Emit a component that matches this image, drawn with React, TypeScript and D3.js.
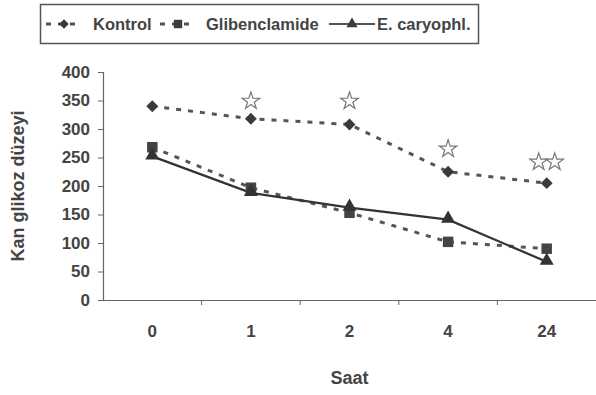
import React, { useEffect, useRef } from "react";
import * as d3 from "d3";

const hours = ["0", "1", "2", "4", "24"];
const kontrol = [340, 318, 308, 225, 205];
const glibenclamide = [268, 197, 153, 102, 90];
const caryophyllus = [252, 188, 162, 141, 67];
// significance stars above the Kontrol series: [hour, y-value, count]
const stars = [
  { hour: "1", value: 349, count: 1 },
  { hour: "2", value: 349, count: 1 },
  { hour: "4", value: 265, count: 1 },
  { hour: "24", value: 242, count: 2 },
];
const yTicks = [0, 50, 100, 150, 200, 250, 300, 350, 400];

const INK = "#3a3a3a";
const FONT = "'Liberation Sans', Arial, sans-serif";

const App = () => {
  const ref = useRef<SVGSVGElement>(null);

  useEffect(() => {
    const svg = d3.select(ref.current);
    svg.selectAll("*").remove();

    const x = d3.scaleBand().domain(hours).range([103, 596]);
    const y = d3.scaleLinear().domain([0, 400]).range([300, 72]);
    const cx = (h: string) => (x(h) as number) + x.bandwidth() / 2;

    // Y axis
    const yAxis = svg
      .append("g")
      .attr("transform", "translate(103,0)")
      .call(d3.axisLeft(y).tickValues(yTicks).tickSize(5).tickPadding(8));
    yAxis.select(".domain").attr("stroke", "#666").attr("stroke-width", 1.2);
    yAxis.selectAll(".tick line").attr("stroke", "#666");
    yAxis
      .selectAll("text")
      .attr("font-family", FONT)
      .attr("font-weight", "bold")
      .attr("font-size", 17)
      .attr("fill", "#444");

    // X axis
    const xAxis = svg
      .append("g")
      .attr("transform", "translate(0,300)")
      .call(d3.axisBottom(x).tickSize(0).tickPadding(25));
    xAxis.select(".domain").attr("stroke", "#666").attr("stroke-width", 1.2);
    xAxis
      .selectAll("text")
      .attr("font-family", FONT)
      .attr("font-weight", "bold")
      .attr("font-size", 17)
      .attr("fill", "#444");
    xAxis
      .selectAll(".bound")
      .data(hours.slice(1))
      .enter()
      .append("line")
      .attr("x1", (d) => x(d) as number)
      .attr("x2", (d) => x(d) as number)
      .attr("y1", 0)
      .attr("y2", 5)
      .attr("stroke", "#666");

    // Axis titles
    svg
      .append("text")
      .attr("transform", `translate(24,${y(200)}) rotate(-90)`)
      .attr("text-anchor", "middle")
      .attr("font-family", FONT)
      .attr("font-weight", "bold")
      .attr("font-size", 18)
      .attr("fill", "#444")
      .text("Kan glikoz düzeyi");
    svg
      .append("text")
      .attr("x", cx("2"))
      .attr("y", 384)
      .attr("text-anchor", "middle")
      .attr("font-family", FONT)
      .attr("font-weight", "bold")
      .attr("font-size", 18)
      .attr("fill", "#444")
      .text("Saat");

    const line = d3
      .line<number>()
      .x((_, i) => cx(hours[i]))
      .y((d) => y(d));

    svg
      .append("path")
      .datum(kontrol)
      .attr("d", line)
      .attr("fill", "none")
      .attr("stroke", "#555")
      .attr("stroke-width", 3)
      .attr("stroke-dasharray", "5,7");
    svg
      .append("path")
      .datum(glibenclamide)
      .attr("d", line)
      .attr("fill", "none")
      .attr("stroke", "#555")
      .attr("stroke-width", 3)
      .attr("stroke-dasharray", "5,7");
    svg
      .append("path")
      .datum(caryophyllus)
      .attr("d", line)
      .attr("fill", "none")
      .attr("stroke", "#333")
      .attr("stroke-width", 2.2);

    const diamond = d3.symbol(d3.symbolDiamond2, 90)();
    const square = d3.symbol(d3.symbolSquare, 110)();
    const triangle = d3.symbol(d3.symbolTriangle, 85)();
    const star = d3.symbol(d3.symbolStar, 95)();

    svg
      .selectAll(".k")
      .data(kontrol)
      .enter()
      .append("path")
      .attr("d", diamond)
      .attr("transform", (d, i) => `translate(${cx(hours[i])},${y(d)})`)
      .attr("fill", INK);
    svg
      .selectAll(".g")
      .data(glibenclamide)
      .enter()
      .append("path")
      .attr("d", square)
      .attr("transform", (d, i) => `translate(${cx(hours[i])},${y(d)})`)
      .attr("fill", "#444");
    svg
      .selectAll(".c")
      .data(caryophyllus)
      .enter()
      .append("path")
      .attr("d", triangle)
      .attr("transform", (d, i) => `translate(${cx(hours[i])},${y(d) - 1})`)
      .attr("fill", "#333");

    // Stars
    stars.forEach((s) => {
      for (let k = 0; k < s.count; k++) {
        const off = (k - (s.count - 1) / 2) * 16;
        svg
          .append("path")
          .attr("d", star)
          .attr("transform", `translate(${cx(s.hour) + off},${y(s.value)})`)
          .attr("fill", "white")
          .attr("stroke", "#777")
          .attr("stroke-width", 1.2);
      }
    });

    // Legend
    const lg = svg.append("g");
    lg.append("rect")
      .attr("x", 40.5)
      .attr("y", 4.5)
      .attr("width", 438)
      .attr("height", 39)
      .attr("fill", "white")
      .attr("stroke", "#555")
      .attr("stroke-width", 1.5);
    const items = [
      { name: "Kontrol", sym: diamond, dash: "5,7", x0: 46, x1: 82, tx: 93 },
      { name: "Glibenclamide", sym: square, dash: "5,7", x0: 160, x1: 196, tx: 206 },
      { name: "E. caryophl.", sym: triangle, dash: "none", x0: 329, x1: 375, tx: 377 },
    ];
    items.forEach((it) => {
      lg.append("line")
        .attr("x1", it.x0)
        .attr("x2", it.x1)
        .attr("y1", 24)
        .attr("y2", 24)
        .attr("stroke", "#555")
        .attr("stroke-width", it.dash === "none" ? 2 : 3)
        .attr("stroke-dasharray", it.dash);
      lg.append("path")
        .attr("d", it.sym)
        .attr("transform", `translate(${(it.x0 + it.x1) / 2},${24}) scale(0.8)`)
        .attr("fill", INK);
      lg.append("text")
        .attr("x", it.tx)
        .attr("y", 30)
        .attr("font-family", FONT)
        .attr("font-weight", "bold")
        .attr("font-size", 16.5)
        .attr("fill", "#444")
        .text(it.name);
    });
  }, []);

  return (
    <svg
      ref={ref}
      width={596}
      height={395}
      style={{ position: "absolute", left: 0, top: 0, background: "white" }}
    />
  );
};

export default App;
